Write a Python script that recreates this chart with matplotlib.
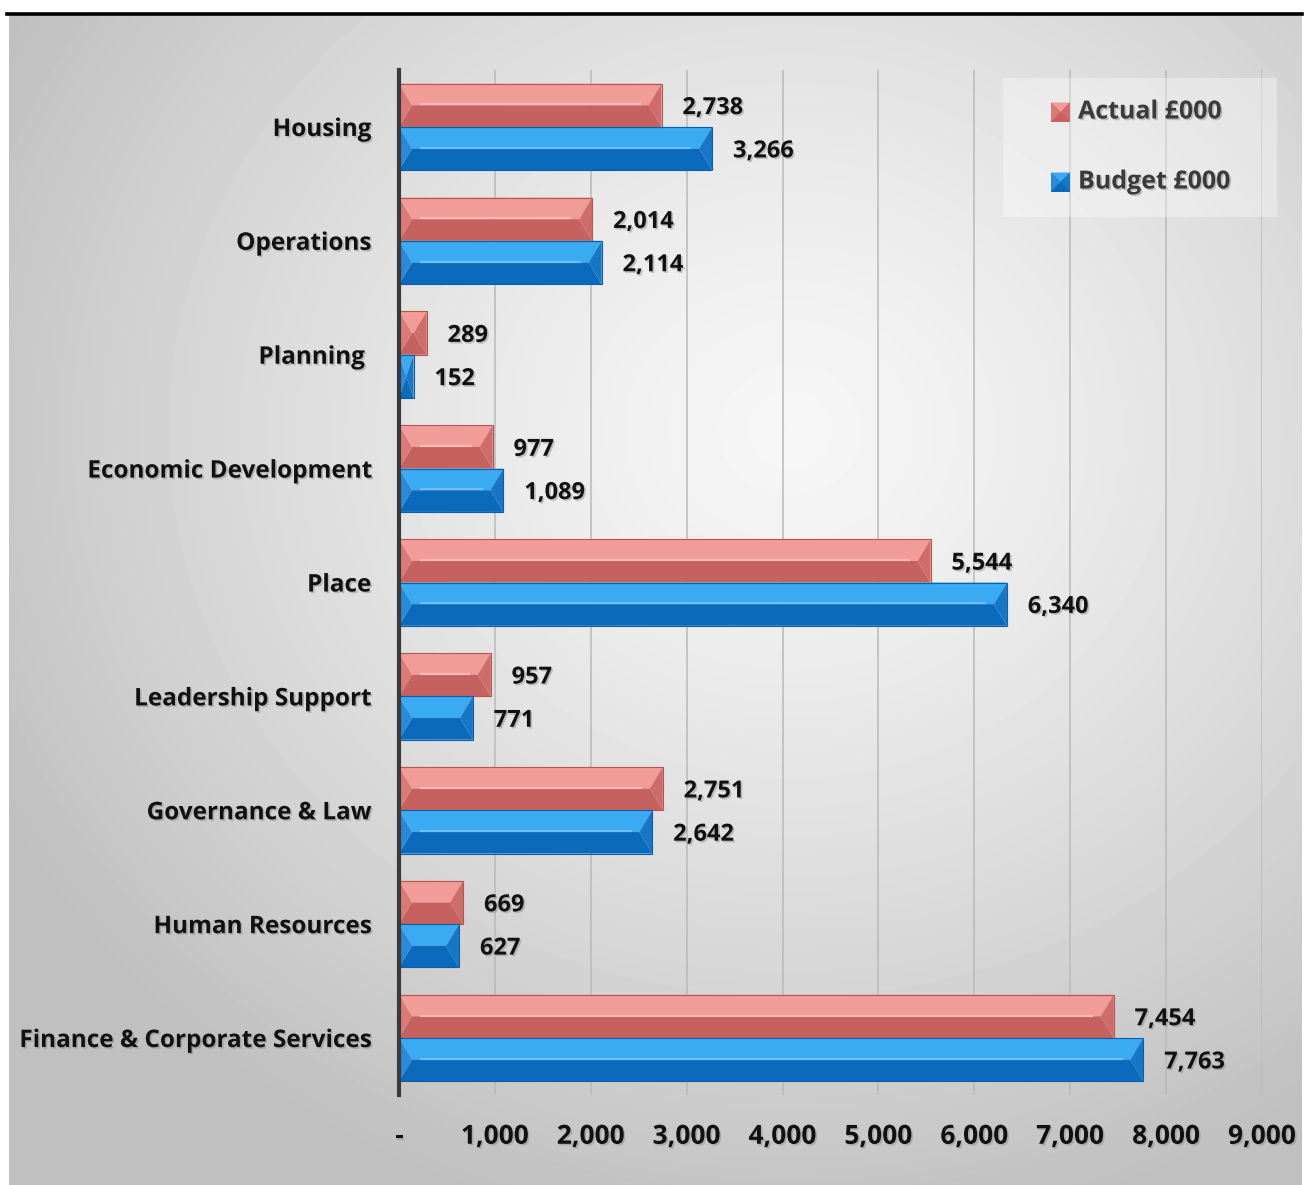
import numpy as np
import matplotlib
matplotlib.use("Agg")
import matplotlib.pyplot as plt
from matplotlib.patches import Rectangle, Polygon
from matplotlib.lines import Line2D
import matplotlib.patheffects as pe

# ---------------- data ----------------
categories = ["Housing", "Operations", "Planning ", "Economic Development", "Place",
              "Leadership Support", "Governance & Law", "Human Resources",
              "Finance & Corporate Services"]
actual = [2738, 2014, 289, 977, 5544, 957, 2751, 669, 7454]
budget = [3266, 2114, 152, 1089, 6340, 771, 2642, 627, 7763]
series_names = ["Actual £000", "Budget £000"]
xticks = [0, 1000, 2000, 3000, 4000, 5000, 6000, 7000, 8000, 9000]
xtick_labels = ["-", "1,000", "2,000", "3,000", "4,000", "5,000", "6,000", "7,000", "8,000", "9,000"]

# ---------------- styling ----------------
W, H = 1307, 1185
FONT = "Open Sans"
TXT = "#111111"
shadow = [pe.withSimplePatchShadow(offset=(1.2, -1.2), shadow_rgbFace="#888888", alpha=0.45)]

red = dict(light="#F29C99", dark="#C5615E", right="#CF6C69", left="#D97A77", hi="#F8B9B7", edge="#B45552")
blue = dict(light="#3AAAF2", dark="#0A6BBD", right="#1676C8", left="#2A89D8", hi="#6CC2F8", edge="#095FA8")

fig = plt.figure(figsize=(W / 100, H / 100), dpi=100)

# background radial gradient
bg = fig.add_axes([9 / W, 0, (1302 - 9) / W, (H - 15) / H], zorder=0)
gy, gx = np.mgrid[15:H, 9:1302]
d = np.sqrt(((gx - 790) / 900.0) ** 2 + ((gy - 430) / 820.0) ** 2)
d = np.clip(d, 0, 1)
light, dark = 0.965, 0.75
val = light - (light - dark) * d ** 1.3
bg.imshow(val, cmap="gray", vmin=0, vmax=1, aspect="auto", interpolation="bilinear")
bg.set_axis_off()

fig.add_artist(Line2D([7 / W, 1302 / W], [1 - 14 / H, 1 - 14 / H], color="black", lw=2.6,
                      transform=fig.transFigure))

# main axes
L, R, T, B = 399, 1262, 70, 1095
ax = fig.add_axes([L / W, 1 - B / H, (R - L) / W, (B - T) / H], zorder=1)
ax.patch.set_alpha(0)
ax.set_xlim(0, 9000)
ax.set_ylim(len(categories) - 0.5, -0.5)
px2dx = 9000 / (R - L)

for s in ["top", "right", "bottom"]:
    ax.spines[s].set_visible(False)
ax.spines["left"].set_color("#3a3a3a")
ax.spines["left"].set_linewidth(3)
ax.spines["left"].set_zorder(5)
for xv in xticks[1:]:
    ax.axvline(xv, color="#b9b9b9", lw=1.1, zorder=0.5)

ypos = np.arange(len(categories))
ax.set_yticks(ypos)
ax.set_yticklabels(categories, fontsize=17.5, fontweight="bold", family=FONT, color=TXT)
ax.set_xticks(xticks)
ax.set_xticklabels(xtick_labels, fontsize=19, fontweight="bold", family=FONT, color=TXT)
ax.tick_params(axis="y", length=0, pad=20)
ax.tick_params(axis="x", length=0, pad=20)
for t in ax.get_xticklabels() + ax.get_yticklabels():
    t.set_path_effects(shadow)

h = 0.38


def bevel_bar(x0, x1, yc, hh, c):
    top, bot = yc - hh / 2, yc + hh / 2
    bx = min(13 * px2dx, (x1 - x0) / 2)
    ax.add_patch(Polygon([(x0, top), (x1, top), (x1 - bx, yc), (x0 + bx, yc)], closed=True,
                         facecolor=c["light"], edgecolor="none", zorder=2))
    ax.add_patch(Polygon([(x0, bot), (x1, bot), (x1 - bx, yc), (x0 + bx, yc)], closed=True,
                         facecolor=c["dark"], edgecolor="none", zorder=2))
    ax.add_patch(Polygon([(x1, top), (x1, bot), (x1 - bx, yc)], closed=True,
                         facecolor=c["right"], edgecolor="none", zorder=2))
    ax.add_patch(Polygon([(x0, top), (x0, bot), (x0 + bx, yc)], closed=True,
                         facecolor=c["left"], edgecolor="none", zorder=2))
    if x1 - x0 > 6 * bx:
        ax.plot([x0 + 1.6 * bx, x1 - 1.6 * bx], [yc - hh * 0.02] * 2, color=c["hi"], lw=1.6,
                zorder=2.5, solid_capstyle="butt")
    ax.add_patch(Rectangle((x0, top), x1 - x0, hh, facecolor="none", edgecolor=c["edge"],
                           lw=0.8, zorder=2.6))


for i, (a, b) in enumerate(zip(actual, budget)):
    for v, yc, c in [(a, i - h / 2, red), (b, i + h / 2, blue)]:
        bevel_bar(0, v, yc, h, c)
        t = ax.annotate(f"{v:,}", xy=(v, yc), xytext=(15, -2), textcoords="offset points",
                        ha="left", va="center", fontsize=17, fontweight="bold",
                        family=FONT, color=TXT, zorder=4)
        t.set_path_effects(shadow)

# legend (pixel-coordinate overlay)
lg = fig.add_axes([0, 0, 1, 1], zorder=2)
lg.set_xlim(0, W)
lg.set_ylim(H, 0)
lg.set_axis_off()
lg.patch.set_alpha(0)
lg.add_patch(Rectangle((1003, 78), 274, 139, facecolor="white", alpha=0.35, edgecolor="none"))
for k, (name, c) in enumerate(zip(series_names, [red, blue])):
    yc = 112 + 70 * k
    x0, x1, s = 1051, 1070, 19
    top, bot = yc - s / 2, yc + s / 2
    m = (x0 + x1) / 2
    lg.add_patch(Rectangle((x0, top), s, s, facecolor=c["dark"], edgecolor="none"))
    lg.add_patch(Polygon([(x0, top), (x1, top), (m, yc)], closed=True, facecolor=c["light"], edgecolor="none"))
    lg.add_patch(Polygon([(x0, top), (x0, bot), (m, yc)], closed=True, facecolor=c["left"], edgecolor="none"))
    lg.add_patch(Polygon([(x1, top), (x1, bot), (m, yc)], closed=True, facecolor=c["right"], edgecolor="none"))
    tt = lg.text(1078, yc, name, ha="left", va="center", fontsize=18, fontweight="bold",
                 family=FONT, color="#3a3a3a")
    tt.set_path_effects(shadow)

fig.savefig("out.png", dpi=100)
